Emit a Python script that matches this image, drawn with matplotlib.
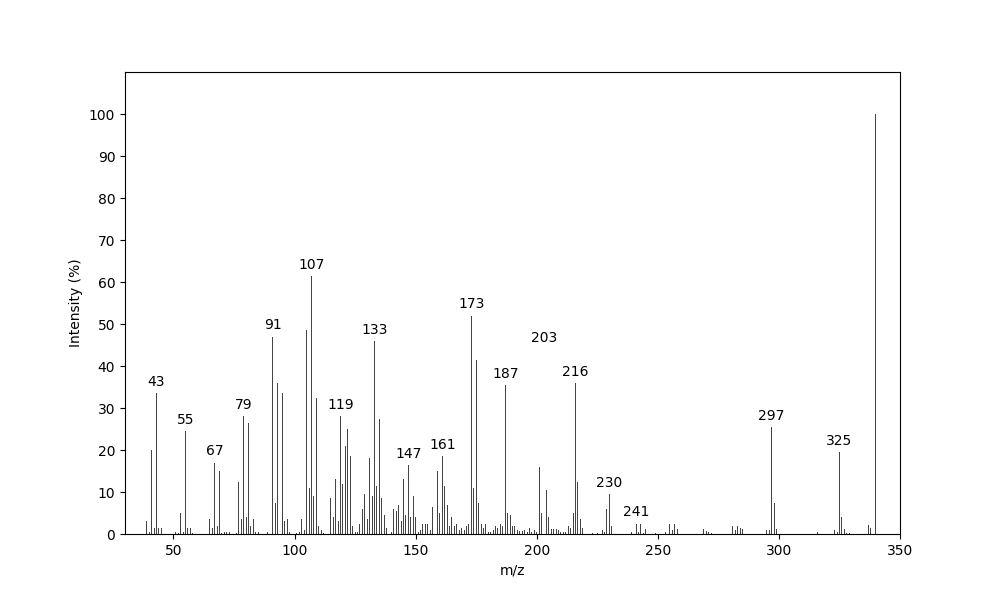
import matplotlib
matplotlib.use("Agg")
import matplotlib.pyplot as plt

mz = [39,40,41,42,43,44,45,51,52,53,54,55,56,57,58,
      65,66,67,68,69,70,71,72,73,76,77,78,79,80,81,82,83,84,85,89,
      91,92,93,94,95,96,97,98,101,102,103,104,105,106,107,108,109,110,111,112,
      115,116,117,118,119,120,121,122,123,124,125,126,127,128,129,130,131,132,133,134,135,136,137,138,139,
      140,141,142,143,144,145,146,147,148,149,150,151,152,153,154,155,156,157,158,159,160,
      161,162,163,164,165,166,167,168,169,170,171,172,173,174,175,176,177,178,179,180,181,
      182,183,184,185,186,187,188,189,190,191,192,193,194,195,196,197,198,199,200,
      201,202,203,204,205,206,207,208,209,210,211,212,213,214,215,216,217,218,219,
      223,225,227,228,229,230,231,239,241,242,243,244,245,249,253,255,256,257,258,
      269,270,271,272,281,282,283,284,285,286,295,296,297,298,299,316,323,324,325,326,327,328,329,
      337,338,340]
intensity = [3,0.5,20,1.5,33.5,1.5,1.5,0.5,0.3,5,0.5,24.5,1.5,1.5,0.3,
      3.5,1.5,17,2,15,0.3,0.5,0.5,0.5,0.3,12.5,3.5,28,4,26.5,2,3.5,0.5,0.5,0.5,
      47,7.5,36,9.5,33.5,3,3.5,0.5,0.3,0.5,3.5,1,48.5,11,61.5,9,32.5,2,1,0.3,
      8.5,4,13,3,28,12,21,25,18.5,2,0.5,0.5,2.5,6,9.5,3.5,18,9,46,11.5,27.5,8.5,4.5,1.5,0.5,
      0.5,6,5.5,7,3,13,4.5,16.5,4,9,4,0.5,1,2.5,2.5,2.5,1,6.5,2,15,5,
      18.5,11.5,7,2,4,2,2.5,1,1.5,1,2,2.5,52,11,41.5,7.5,2.5,1.5,2.5,0.5,0.5,
      1,2,1.5,2.5,2,35.5,5,4.5,2,2,1,0.8,0.8,1,0.5,1.5,0.5,1,0.5,
      16,5,44,10.5,4,1.2,1.2,1.2,1,0.5,0.5,0.5,2,1.5,5,36,12.5,3.5,1.5,
      0.3,0.3,1,0.5,6,9.5,2,0.5,2.5,0.5,2.5,0.3,1.2,0.3,0.5,2.5,1,2.5,1.2,
      1.2,0.8,0.5,0.3,2,1,2,1.5,1.2,0.5,1,1,25.5,7.5,1.2,0.5,1,0.5,19.5,4,1.2,0.3,0.3,
      2.2,1.5,100]
labeled = [43,55,67,79,91,107,119,133,147,161,173,187,203,216,230,241,297,325]

fig, ax = plt.subplots(figsize=(10, 6), dpi=100)
ax.bar(mz, intensity, width=0.4, color="#444444")
lookup = dict(zip(mz, intensity))
for m in labeled:
    ax.annotate(str(m), (m, lookup[m]), xytext=(0, 3), textcoords="offset points",
                ha="center", va="bottom", fontsize=10)
ax.set_xlim(30, 350)
ax.set_ylim(0, 110)
ax.set_yticks(range(0, 101, 10))
ax.set_xlabel("m/z")
ax.set_ylabel("Intensity (%)")
fig.savefig("out.png")
